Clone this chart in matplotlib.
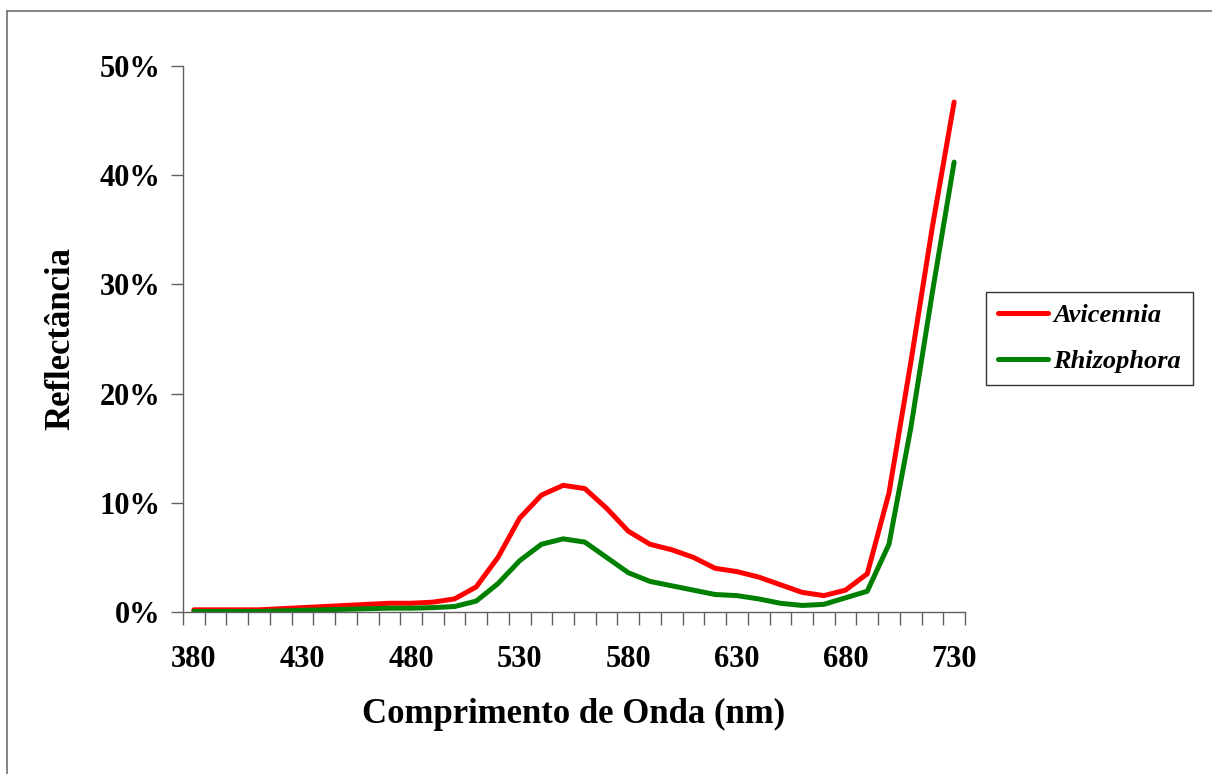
import matplotlib
matplotlib.use("Agg")
import matplotlib.pyplot as plt
from matplotlib.lines import Line2D
from matplotlib.ticker import FuncFormatter, FixedLocator

plt.rcParams['font.family'] = ['Liberation Serif', 'DejaVu Serif']

# wavelength categories (nm)
wavelength = [380, 390, 400, 410, 420, 430, 440, 450, 460, 470, 480, 490,
              500, 510, 520, 530, 540, 550, 560, 570, 580, 590, 600, 610,
              620, 630, 640, 650, 660, 670, 680, 690, 700, 710, 720, 730]
# reflectance (%)
avicennia = [0.2, 0.2, 0.2, 0.2, 0.3, 0.4, 0.5, 0.6, 0.7, 0.8, 0.8, 0.9,
             1.2, 2.3, 5.0, 8.6, 10.7, 11.6, 11.3, 9.5, 7.4, 6.2, 5.7, 5.0,
             4.0, 3.7, 3.2, 2.5, 1.8, 1.5, 2.0, 3.5, 10.9, 22.8, 35.3, 46.7]
rhizophora = [0.05, 0.05, 0.05, 0.05, 0.1, 0.15, 0.2, 0.25, 0.3, 0.35, 0.35, 0.4,
              0.5, 1.0, 2.6, 4.7, 6.2, 6.7, 6.4, 5.0, 3.6, 2.8, 2.4, 2.0,
              1.6, 1.5, 1.2, 0.8, 0.6, 0.7, 1.3, 1.9, 6.2, 16.8, 29.3, 41.2]
label_ticks = [380, 430, 480, 530, 580, 630, 680, 730]
y_ticks = [0, 10, 20, 30, 40, 50]

fig = plt.figure(figsize=(12.12, 7.74), dpi=100)
ax = fig.add_axes([183/1212, 1 - 612/774, 782/1212, 546/774])

ax.plot(wavelength, avicennia, color='#ff0000', lw=3.6, label='Avicennia',
        solid_capstyle='round', solid_joinstyle='round')
ax.plot(wavelength, rhizophora, color='#008000', lw=3.6, label='Rhizophora',
        solid_capstyle='round', solid_joinstyle='round')

ax.set_xlim(375, 735)
ax.set_ylim(0, 50)

for s in ['top', 'right']:
    ax.spines[s].set_visible(False)
for s in ['left', 'bottom']:
    ax.spines[s].set_color('#606060')
    ax.spines[s].set_linewidth(1.0)

ax.xaxis.set_major_locator(FixedLocator(label_ticks))
ax.xaxis.set_minor_locator(FixedLocator([w - 5 for w in wavelength] + [735]))
ax.tick_params(axis='x', which='major', length=0, pad=24, labelsize=22)
ax.tick_params(axis='x', which='minor', length=9, width=1, color='#606060', direction='out')
for t in ax.get_xticklabels():
    t.set_fontweight('bold')

ax.set_yticks(y_ticks)
ax.yaxis.set_major_formatter(FuncFormatter(lambda v, p: f"{v:.0f}%"))
ax.tick_params(axis='y', length=9, width=1, color='#606060', direction='out', pad=7, labelsize=22)
for t in ax.get_yticklabels():
    t.set_fontweight('bold')

ax.set_xlabel('Comprimento de Onda (nm)', fontsize=25, fontweight='bold')
ax.xaxis.set_label_coords(0.5, -0.158)
ax.set_ylabel('Reflectância', fontsize=25, fontweight='bold')
ax.yaxis.set_label_coords(-0.135, 0.5)

leg = fig.legend(loc='upper left', bbox_to_anchor=(986/1212, 1 - 292/774),
                 borderaxespad=0, frameon=True, fancybox=False,
                 prop={'style': 'italic', 'weight': 'bold', 'size': 19},
                 handlelength=1.9, handletextpad=0.2, labelspacing=0.85,
                 borderpad=0.45)
leg.get_frame().set_edgecolor('black')
leg.get_frame().set_linewidth(1.0)

# outer chart frame
fig.add_artist(Line2D([7/1212, 7/1212], [0, 1 - 11/774], color='#707070', lw=1.2))
fig.add_artist(Line2D([7/1212, 1], [1 - 11/774, 1 - 11/774], color='#707070', lw=1.2))

fig.savefig('out.png', dpi=100)
